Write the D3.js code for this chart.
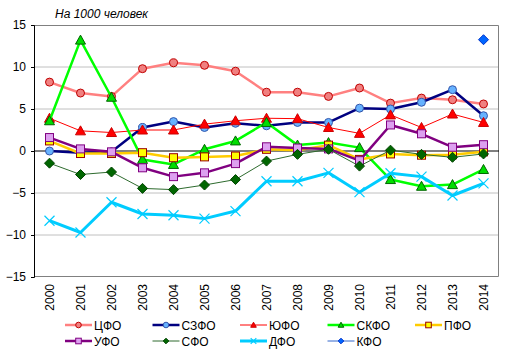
<!DOCTYPE html>
<html><head><meta charset="utf-8">
<script src="https://cdn.jsdelivr.net/npm/d3@7"></script>
<style>body{margin:0;background:#fff}svg{display:block;font-family:Arial,"Liberation Sans",sans-serif}</style>
</head><body><svg id="c" width="515" height="355"></svg>
<script>
const years = ["2000","2001","2002","2003","2004","2005","2006","2007","2008","2009","2010","2011","2012","2013","2014"];
const yTicks = [-15,-10,-5,0,5,10,15];
const title = "На 1000 человек";
const seriesNames = ["ЦФО","СЗФО","ЮФО","СКФО","ПФО","УФО","СФО","ДФО","КФО"];
const cfo  = [8.2,6.9,6.5,9.8,10.5,10.2,9.5,7.0,7.0,6.5,7.5,5.7,6.3,6.1,5.6];
const szfo = [0.0,-0.2,-0.1,2.8,3.5,2.8,3.3,3.0,3.4,3.4,5.1,5.0,5.8,7.3,4.2];
const yufo = [3.9,2.4,2.2,2.5,2.5,3.2,3.6,3.9,3.85,2.8,2.1,4.3,2.8,4.4,3.4];
const skfo = [3.6,13.2,6.4,-1.0,-1.6,0.2,1.2,3.4,0.7,1.0,0.4,-3.4,-4.2,-4.0,-2.2];
const pfo  = [1.2,-0.3,-0.3,-0.2,-0.8,-0.7,-0.6,0.2,0.1,0.7,-1.0,-0.35,-0.5,-0.45,-0.1];
const ufo  = [1.6,0.25,-0.1,-2.0,-3.05,-2.6,-1.5,0.5,0.35,0.25,-1.15,3.1,2.05,0.45,0.75];
const sfo  = [-1.45,-2.8,-2.5,-4.45,-4.6,-4.05,-3.4,-1.2,-0.4,0.2,-1.8,0.1,-0.4,-0.75,-0.35];
const dfo  = [-8.3,-9.7,-6.1,-7.5,-7.65,-8.05,-7.15,-3.6,-3.6,-2.6,-4.9,-2.65,-3.05,-5.3,-3.85];
const kfo  = [null,null,null,null,null,null,null,null,null,null,null,null,null,null,13.25];

const seriesValues = [cfo,szfo,yufo,skfo,pfo,ufo,sfo,dfo,kfo];
const styles = [
  {line:"#FF8080",lw:2.5,shape:"circle",fill:"#F08080",stroke:"#C00000",size:4},
  {line:"#000080",lw:2.5,shape:"circle",fill:"#66B2FF",stroke:"#3355AA",size:4},
  {line:"#FF0000",lw:1,shape:"triangle",fill:"#FF0000",stroke:"#CC0000",size:5},
  {line:"#00FF00",lw:2.5,shape:"triangle",fill:"#00DD00",stroke:"#006600",size:5},
  {line:"#FFCC00",lw:2.5,shape:"square",fill:"#FFFF00",stroke:"#990000",size:4},
  {line:"#800080",lw:2.5,shape:"square",fill:"#DDA0F0",stroke:"#800080",size:4},
  {line:"#2E6B2E",lw:1,shape:"diamond",fill:"#006600",stroke:"#004400",size:5},
  {line:"#00CCFF",lw:3,shape:"x",fill:"none",stroke:"#00CCFF",size:5},
  {line:"#3366CC",lw:1,shape:"diamond",fill:"#0066FF",stroke:"#0033CC",size:5}
];

const svg = d3.select("#c");
const L=34, R=499, T=25, B=277;
const x = d3.scaleBand().domain(years).range([L,R]).padding(0);
const y = d3.scaleLinear().domain([-15,15]).range([B,T]);
const cx = d => x(d)+x.bandwidth()/2;

// gridlines
svg.append("g").selectAll("line").data(yTicks.filter(t=>t!==0 && t!==15 && t!==-15)).join("line")
  .attr("x1",L).attr("x2",R).attr("y1",d=>y(d)).attr("y2",d=>y(d))
  .attr("stroke","#C0C0C0").attr("stroke-width",1);
// plot border
svg.append("path").attr("d",`M${L},${T+0.5}H${R-0.5}V${B-0.5}H${L}`).attr("fill","none").attr("stroke","#808080").attr("stroke-width",1);

// y axis
const ya = svg.append("g").attr("transform",`translate(${L},0)`)
  .call(d3.axisLeft(y).tickValues(yTicks).tickSize(3).tickPadding(5));
ya.select(".domain").attr("stroke","#000");
ya.selectAll("line").attr("stroke","#000");
ya.selectAll("text").attr("font-size",12).attr("fill","#000").style("font-family","Arial,'Liberation Sans',sans-serif");

// zero line
svg.append("line").attr("x1",L).attr("x2",R).attr("y1",y(0)).attr("y2",y(0)).attr("stroke","#000").attr("stroke-width",1);

// x labels (rotated)
svg.append("g").selectAll("text").data(years).join("text")
  .attr("transform",d=>`translate(${cx(d)+4},${B+7}) rotate(-90)`)
  .attr("text-anchor","end").attr("font-size",12).attr("fill","#000").text(d=>d);

// title
svg.append("text").attr("x",55).attr("y",18).attr("font-size",12).attr("font-style","italic").attr("fill","#000").text(title);

function marker(g, st, px, py, s){
  if(st.shape==="circle"){
    g.append("circle").attr("cx",px).attr("cy",py).attr("r",s).attr("fill",st.fill).attr("stroke",st.stroke).attr("stroke-width",1);
  } else if(st.shape==="square"){
    g.append("rect").attr("x",px-s).attr("y",py-s).attr("width",2*s).attr("height",2*s).attr("fill",st.fill).attr("stroke",st.stroke).attr("stroke-width",1);
  } else if(st.shape==="triangle"){
    g.append("path").attr("d",`M${px},${py-s}L${px+s},${py+s*0.8}L${px-s},${py+s*0.8}Z`).attr("fill",st.fill).attr("stroke",st.stroke).attr("stroke-width",1);
  } else if(st.shape==="diamond"){
    g.append("path").attr("d",`M${px},${py-s}L${px+s},${py}L${px},${py+s}L${px-s},${py}Z`).attr("fill",st.fill).attr("stroke",st.stroke).attr("stroke-width",1);
  } else if(st.shape==="x"){
    g.append("path").attr("d",`M${px-s},${py-s}L${px+s},${py+s}M${px+s},${py-s}L${px-s},${py+s}`).attr("stroke",st.stroke).attr("stroke-width",1.2);
  }
}

const lineGen = d3.line().defined(d=>d.v!==null).x(d=>cx(d.yr)).y(d=>y(d.v));
seriesValues.forEach((vals,i)=>{
  const st = styles[i];
  const data = years.map((yr,j)=>({yr, v: vals[j]}));
  const g = svg.append("g");
  g.append("path").datum(data).attr("d",lineGen).attr("fill","none").attr("stroke",st.line).attr("stroke-width",st.lw).attr("stroke-linejoin","round");
  data.filter(d=>d.v!==null).forEach(d=>marker(g, st, cx(d.yr), y(d.v), st.size));
});

// legend
const lg = svg.append("g");
seriesNames.forEach((n,i)=>{
  const st = styles[i];
  const col = i%5, row = Math.floor(i/5);
  const lx = 65 + col*87.5, ly = 325 + row*16;
  lg.append("line").attr("x1",lx).attr("x2",lx+27).attr("y1",ly).attr("y2",ly).attr("stroke",st.line).attr("stroke-width",st.lw);
  marker(lg, st, lx+13.5, ly, 2.8);
  lg.append("text").attr("x",lx+29).attr("y",ly+4.5).attr("font-size",12).attr("fill","#000").text(n);
});
</script></body></html>
